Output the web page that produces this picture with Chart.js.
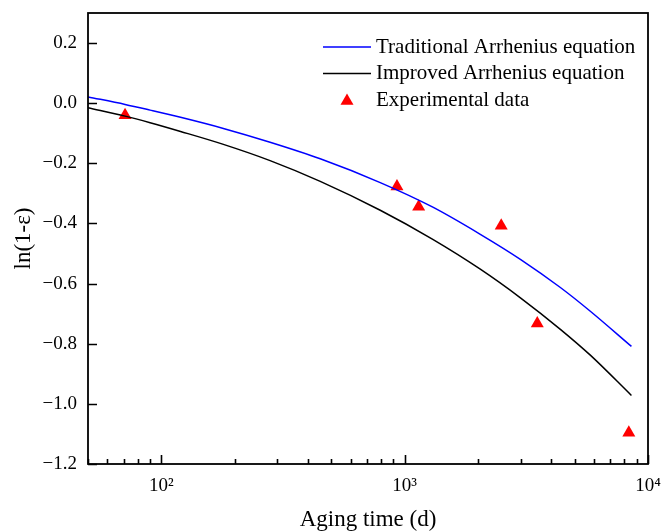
<!DOCTYPE html>
<html>
<head>
<meta charset="utf-8">
<script src="https://cdn.jsdelivr.net/npm/chart.js@4.4.1/dist/chart.umd.min.js"></script>
<style>
  html, body { margin: 0; padding: 0; background: #ffffff; }
  #wrap { width: 662px; height: 532px; }
</style>
</head>
<body>
<div id="wrap"><canvas id="c" width="662" height="532"></canvas></div>
<script>
// ---- Data ----
const seriesLabels = ['Traditional Arrhenius equation', 'Improved Arrhenius equation', 'Experimental data'];

const traditionalX = [50, 71, 90, 120, 180, 280, 450, 794, 1300, 2046, 3000, 4365, 5794, 8550];
const traditionalY = [0.021, -0.004, -0.023, -0.047, -0.084, -0.130, -0.185, -0.264, -0.345, -0.436, -0.520, -0.613, -0.692, -0.809];

const improvedX = [50, 71, 90, 120, 180, 280, 450, 794, 1300, 2046, 3000, 4365, 5794, 8550];
const improvedY = [-0.015, -0.043, -0.065, -0.094, -0.137, -0.191, -0.260, -0.356, -0.452, -0.552, -0.648, -0.752, -0.838, -0.972];

const experimentX = [71, 930, 1142, 2494, 3508, 8340];
const experimentY = [-0.040, -0.277, -0.344, -0.408, -0.733, -1.096];

const xTickValues = [50, 60, 70, 80, 90, 100, 200, 300, 400, 500, 600, 700, 800, 900,
                     1000, 2000, 3000, 4000, 5000, 6000, 7000, 8000, 9000, 10000];
const xTickLabels = { 100: '10\u00B2', 1000: '10\u00B3', 10000: '10\u2074' };
const yTickValues = [-1.2, -1.0, -0.8, -0.6, -0.4, -0.2, 0.0, 0.2];

const xTitle = 'Aging time (d)';
const yTitle = 'ln(1-\u03B5)';

// ---- Build ----
const pts = (xs, ys) => xs.map((x, i) => ({ x: x, y: ys[i] }));
const SERIF = "'Liberation Serif', 'DejaVu Serif', serif";

const frameAndTicks = {
  id: 'frameAndTicks',
  afterDatasetsDraw(chart) {
    const { ctx, chartArea: a, scales } = chart;
    ctx.save();
    ctx.strokeStyle = '#000';
    ctx.lineWidth = 1.8;
    ctx.strokeRect(a.left, a.top, a.right - a.left, a.bottom - a.top);
    ctx.lineWidth = 1.6;
    ctx.beginPath();
    scales.x.ticks.forEach(t => {
      const px = Math.round(scales.x.getPixelForValue(t.value)) + 0.5;
      const major = Math.abs(Math.log10(t.value) - Math.round(Math.log10(t.value))) < 1e-9;
      const len = major ? 9 : 5;
      ctx.moveTo(px, a.bottom);
      ctx.lineTo(px, a.bottom - len);
    });
    scales.y.ticks.forEach(t => {
      const py = Math.round(scales.y.getPixelForValue(t.value)) + 0.5;
      ctx.moveTo(a.left, py);
      ctx.lineTo(a.left + 9, py);
    });
    ctx.stroke();
    ctx.restore();
  }
};

const legendPlugin = {
  id: 'customLegend',
  afterDraw(chart) {
    const { ctx } = chart;
    const ds = chart.data.datasets;
    const x0 = 323, lineLen = 48, textX = 376, y0 = 47, gap = 26.5;
    ctx.save();
    ctx.font = '21px ' + SERIF;
    ctx.textBaseline = 'middle';
    ctx.textAlign = 'left';
    ds.forEach((d, i) => {
      const y = y0 + i * gap;
      if (d.showLine === false) {
        const r = d.pointRadius;
        const cx = x0 + lineLen / 2, cy = y + 1;
        ctx.fillStyle = d.pointBackgroundColor;
        ctx.beginPath();
        ctx.moveTo(cx, cy - r);
        ctx.lineTo(cx + r * Math.sin(Math.PI / 3), cy + r / 2);
        ctx.lineTo(cx - r * Math.sin(Math.PI / 3), cy + r / 2);
        ctx.closePath();
        ctx.fill();
      } else {
        ctx.strokeStyle = d.borderColor;
        ctx.lineWidth = d.borderWidth;
        ctx.beginPath();
        ctx.moveTo(x0, y);
        ctx.lineTo(x0 + lineLen, y);
        ctx.stroke();
      }
      ctx.fillStyle = '#000';
      ctx.fillText(d.label, textX, y);
    });
    ctx.restore();
  }
};

new Chart(document.getElementById('c'), {
  type: 'scatter',
  data: {
    datasets: [
      {
        type: 'line',
        label: seriesLabels[0],
        data: pts(traditionalX, traditionalY),
        borderColor: '#0000ff',
        borderWidth: 1.5,
        pointRadius: 0,
        fill: false,
        cubicInterpolationMode: 'monotone',
        showLine: true
      },
      {
        type: 'line',
        label: seriesLabels[1],
        data: pts(improvedX, improvedY),
        borderColor: '#000000',
        borderWidth: 1.5,
        pointRadius: 0,
        fill: false,
        cubicInterpolationMode: 'monotone',
        showLine: true
      },
      {
        type: 'scatter',
        label: seriesLabels[2],
        data: pts(experimentX, experimentY),
        showLine: false,
        pointStyle: 'triangle',
        pointRadius: 7.5,
        pointBackgroundColor: '#ff0000',
        pointBorderColor: '#ff0000',
        pointBorderWidth: 0
      }
    ]
  },
  options: {
    responsive: false,
    animation: false,
    devicePixelRatio: 1,
    layout: { padding: { left: 0, top: 13, right: 14, bottom: 0 } },
    plugins: { legend: { display: false }, tooltip: { enabled: false } },
    scales: {
      x: {
        type: 'logarithmic',
        min: 50,
        max: 10000,
        afterBuildTicks: s => { s.ticks = xTickValues.map(v => ({ value: v })); },
        afterFit: s => { s.height = 68; s.paddingLeft = 0; s.paddingRight = 0; },
        grid: { display: false, drawTicks: false },
        border: { display: false },
        ticks: {
          autoSkip: false,
          maxRotation: 0,
          minRotation: 0,
          padding: 11,
          color: '#000',
          font: { family: SERIF, size: 19 },
          callback: v => xTickLabels[v] || ''
        },
        title: {
          display: true,
          text: xTitle,
          color: '#000',
          font: { family: SERIF, size: 23, lineHeight: 1 },
          padding: { top: 0, bottom: 1 }
        }
      },
      y: {
        type: 'linear',
        min: -1.2,
        max: 0.3,
        afterBuildTicks: s => { s.ticks = yTickValues.map(v => ({ value: v })); },
        afterFit: s => { s.width = 88; s.paddingTop = 0; s.paddingBottom = 0; },
        grid: { display: false, drawTicks: false },
        border: { display: false },
        ticks: {
          padding: 11,
          color: '#000',
          font: { family: SERIF, size: 19 },
          callback: v => (v < 0 ? '\u2212' : '') + Math.abs(v).toFixed(1)
        },
        title: {
          display: true,
          text: yTitle,
          color: '#000',
          font: { family: SERIF, size: 23, lineHeight: 1 },
          padding: { top: 12, bottom: 0 }
        }
      }
    }
  },
  plugins: [frameAndTicks, legendPlugin]
});
</script>
</body>
</html>
